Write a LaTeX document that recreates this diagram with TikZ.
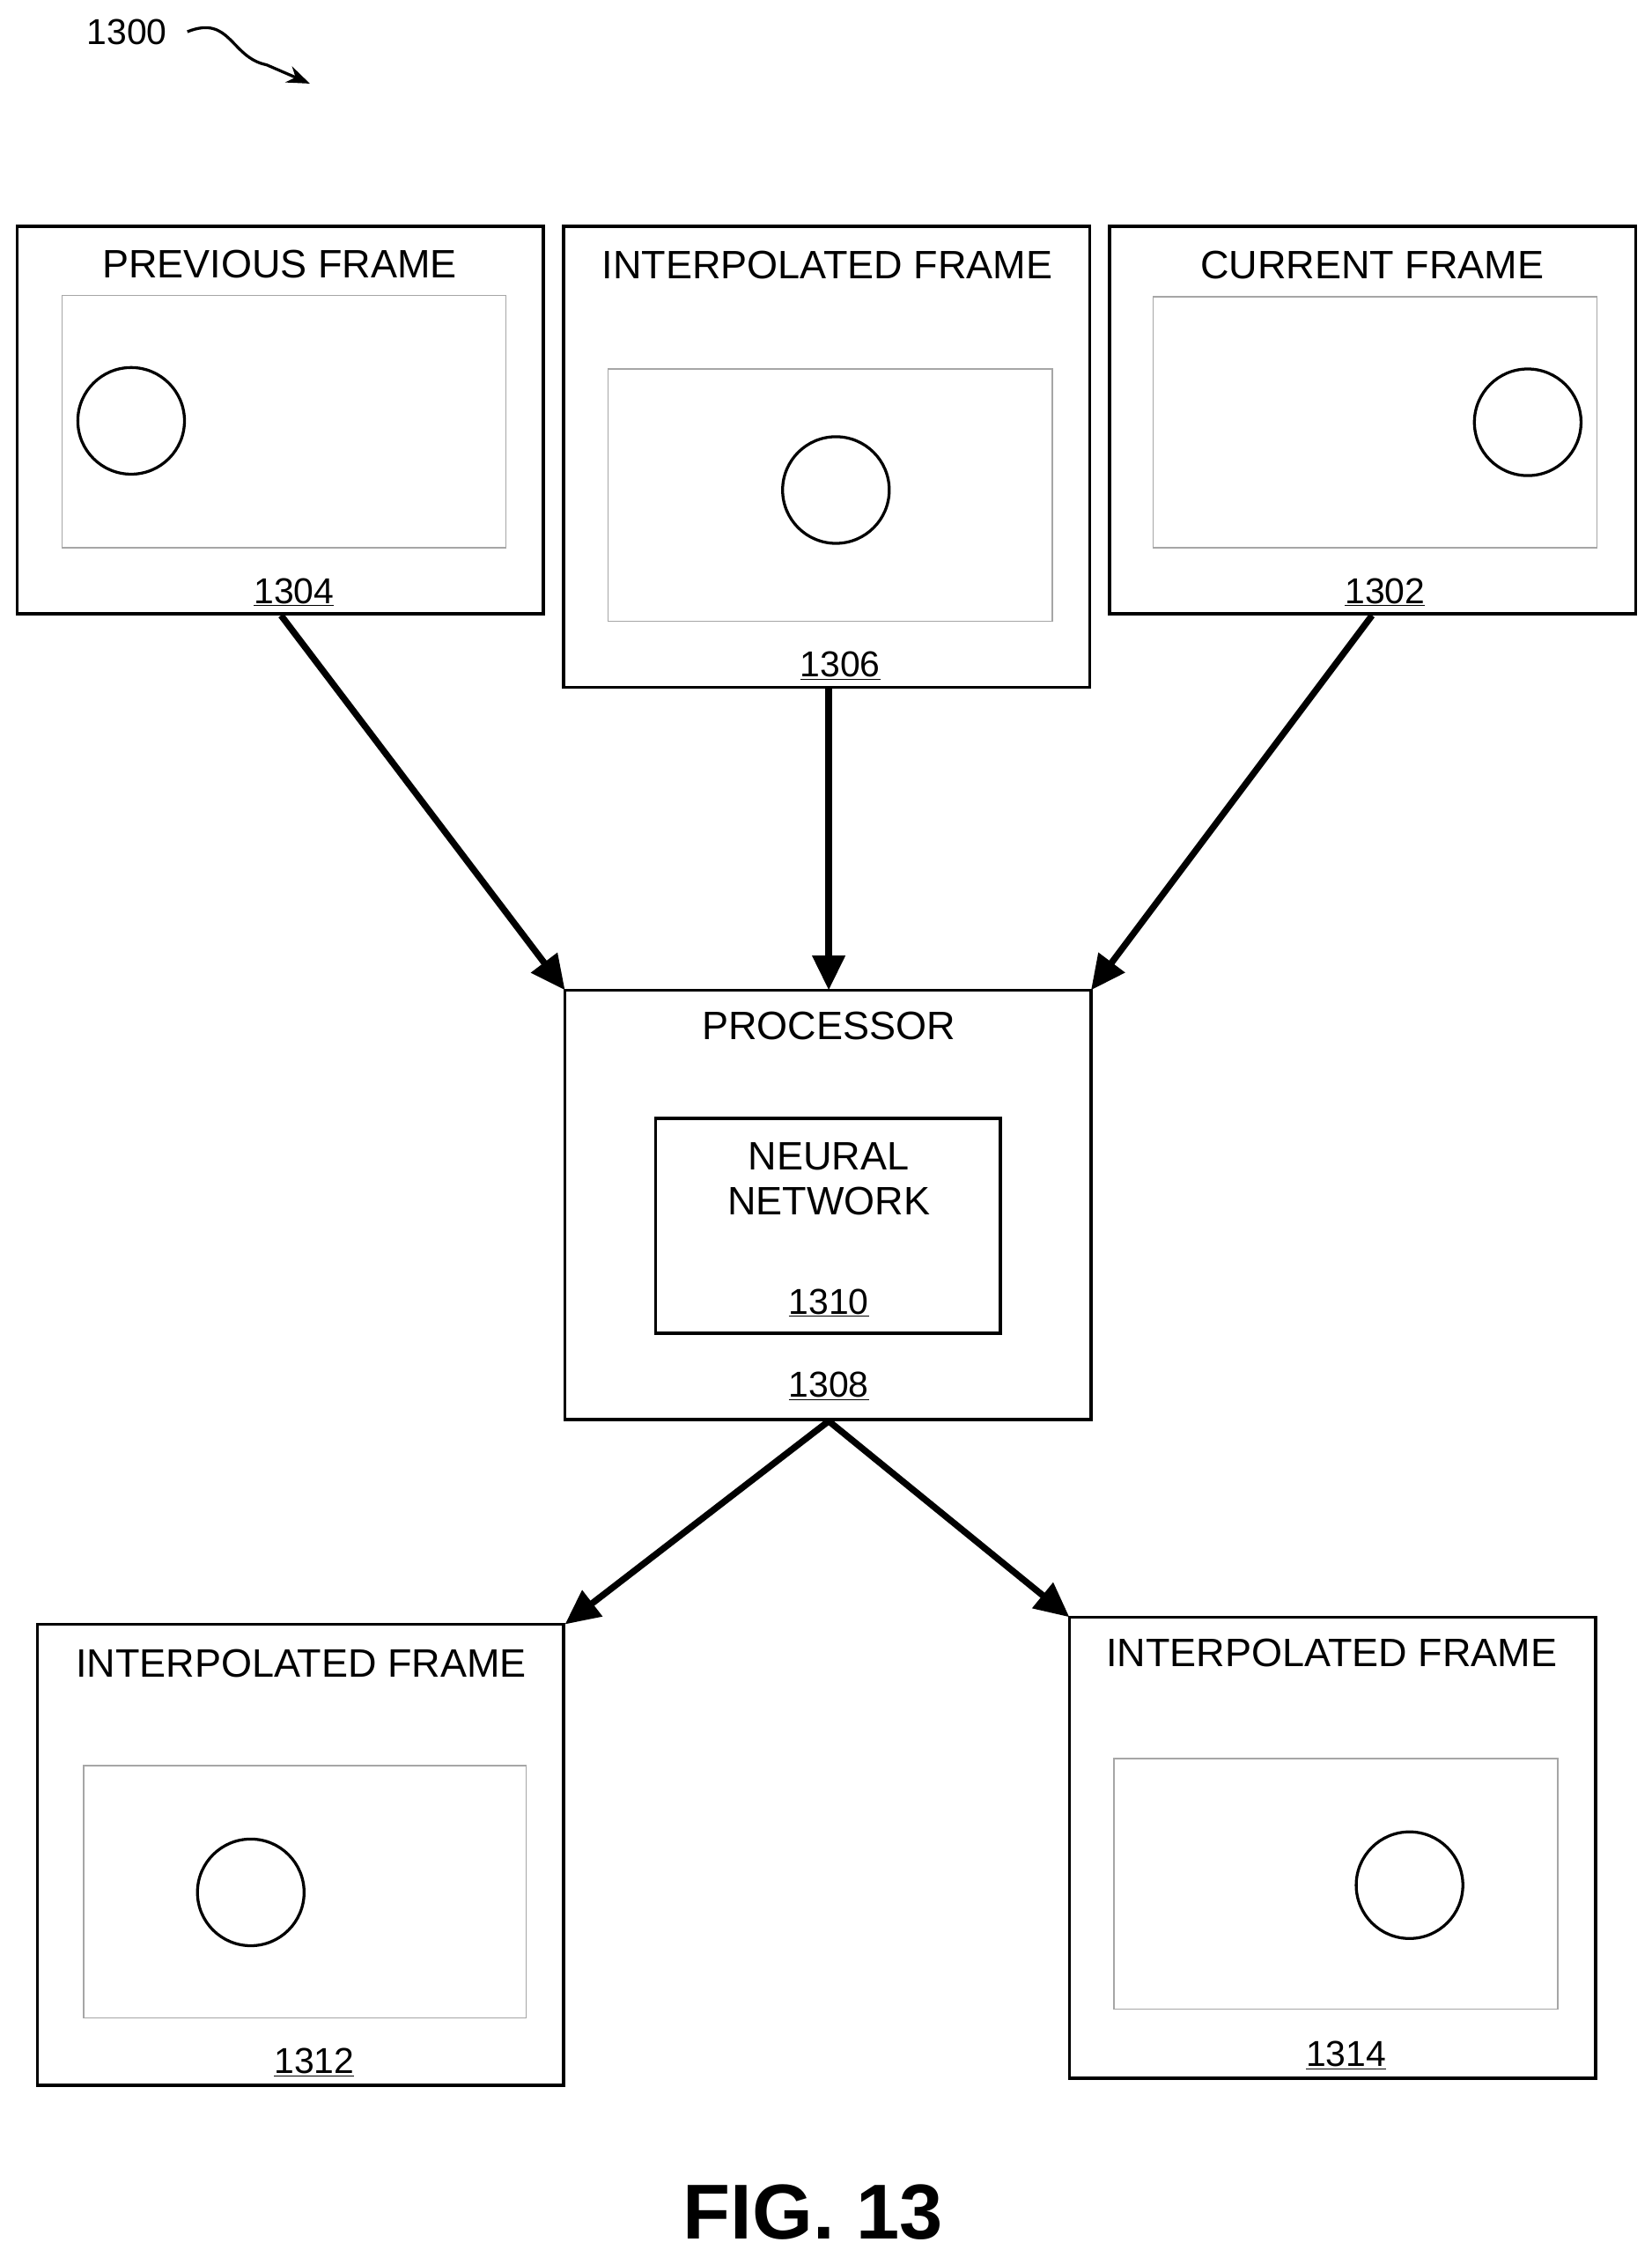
\documentclass[tikz,border=0pt]{standalone}
\usepackage{fontspec}
\setmainfont{Liberation Sans}
\usetikzlibrary{arrows.meta}
\begin{document}
\begin{tikzpicture}[x=1pt,y=-1pt,
  box/.style={draw,line width=2.2pt},
  inner/.style={draw=gray!70,line width=1pt},
  circ/.style={draw,line width=2pt,circle,minimum size=74pt,inner sep=0pt},
  ttl/.style={font=\fontsize{27.5}{31}\selectfont},
  num/.style={font=\fontsize{25}{28}\selectfont},
  arr/.style={line width=4.5pt,-{Triangle[length=24pt,width=22pt]}}]
\useasboundingbox (0,0) rectangle (1146,1566);
\node[num] (l1300) at (88,22) {1300};
\draw[line width=2pt,-{Stealth[length=16pt,width=12pt]}] (130,22) .. controls (160,10) and (160,40) .. (185,45) -- (215,58);
% previous
\draw[box] (12,157) rectangle (377,426); \node[ttl] (t1) at (194,183) {PREVIOUS FRAME};
\draw[inner] (43,205) rectangle (351,380); \node[circ] (c1) at (91,292) {};
\node[num] (n1304) at (204,411) {\underline{1304}};
% interp
\draw[box] (391,157) rectangle (756,477); \node[ttl] (t2) at (574,184) {INTERPOLATED FRAME};
\draw[inner] (422,256) rectangle (730,431); \node[circ] (c2) at (580,340) {};
\node[num] (n1306) at (583,462) {\underline{1306}};
% current
\draw[box] (770,157) rectangle (1135,426); \node[ttl] (t3) at (952,184) {CURRENT FRAME};
\draw[inner] (800,206) rectangle (1108,380); \node[circ] (c3) at (1060,293) {};
\node[num] (n1302) at (961,411) {\underline{1302}};
% processor
\draw[box] (392,687) rectangle (757,985); \node[ttl] (t4) at (575,712) {PROCESSOR};
\draw[box] (455,776) rectangle (694,925);
\node[ttl,align=center] (t5) at (575,818) {NEURAL\\NETWORK};
\node[num] (n1310) at (575,904) {\underline{1310}};
\node[num] (n1308) at (575,962) {\underline{1308}};
% bottom
\draw[box] (26,1127) rectangle (391,1447); \node[ttl] (t6) at (209,1154) {INTERPOLATED FRAME};
\draw[inner] (58,1225) rectangle (365,1400); \node[circ] (c6) at (174,1313) {};
\node[num] (n1312) at (218,1431) {\underline{1312}};
\draw[box] (742,1122) rectangle (1107,1442); \node[ttl] (t7) at (924,1147) {INTERPOLATED FRAME};
\draw[inner] (773,1220) rectangle (1081,1394); \node[circ] (c7) at (978,1308) {};
\node[num] (n1314) at (934,1426) {\underline{1314}};
% arrows
\coordinate (a1) at (195,427); \coordinate (p1) at (392,687);
\coordinate (a2) at (575,478); \coordinate (p2) at (575,687);
\coordinate (a3) at (952,427); \coordinate (p3) at (757,687);
\coordinate (o) at (575,986); \coordinate (q1) at (392,1127); \coordinate (q2) at (742,1122);
\draw[arr] (a1) -- (p1); \draw[arr] (a2) -- (p2); \draw[arr] (a3) -- (p3);
\draw[arr] (o) -- (q1); \draw[arr] (o) -- (q2);
\node[font=\fontsize{54}{58}\selectfont\bfseries] (fig) at (564,1535) {FIG. 13};
\end{tikzpicture}
\end{document}
